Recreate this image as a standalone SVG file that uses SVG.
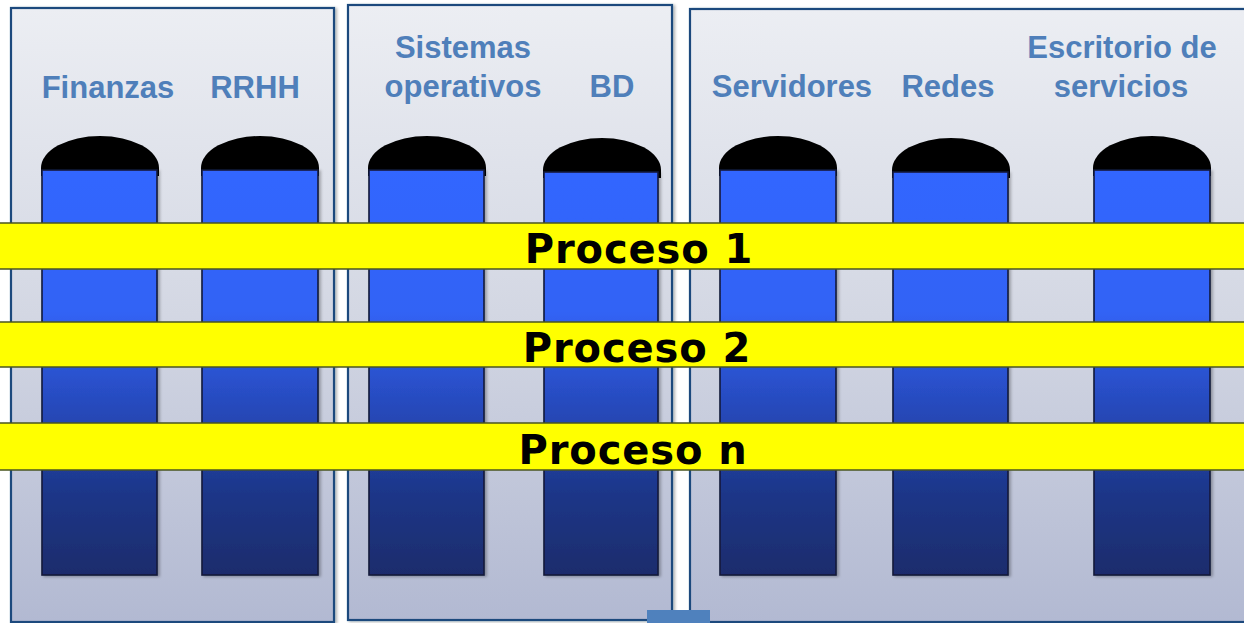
<svg xmlns="http://www.w3.org/2000/svg" width="1244" height="623" viewBox="0 0 1244 623">
<defs>
<linearGradient id="panelG" x1="0" y1="0" x2="0" y2="1">
<stop offset="0" stop-color="#eceef3"/>
<stop offset="0.5" stop-color="#d3d7e3"/>
<stop offset="1" stop-color="#b2b9d2"/>
</linearGradient>
<linearGradient id="pillarG" gradientUnits="userSpaceOnUse" x1="0" y1="170" x2="0" y2="575">
<stop offset="0" stop-color="#3366ff"/>
<stop offset="0.35" stop-color="#3163f5"/>
<stop offset="0.6" stop-color="#2648b8"/>
<stop offset="0.8" stop-color="#1d3688"/>
<stop offset="1" stop-color="#1a2c6c"/>
</linearGradient>
<filter id="sh" x="-10%" y="-10%" width="130%" height="130%">
<feDropShadow dx="2" dy="1" stdDeviation="1.5" flood-color="#000" flood-opacity="0.3"/>
</filter>
</defs>
<style>
.panel{fill:url(#panelG);stroke:#1f497d;stroke-width:2.2}
.pillar{fill:url(#pillarG);stroke:#14183a;stroke-width:1.6}
.dome{fill:#000}
.lbl{font-family:"Liberation Sans",Arial,sans-serif;font-weight:bold;font-size:31px;fill:#4f7fba;text-anchor:middle}
.band{fill:#ffff00;stroke:#4a5520;stroke-width:1.5}
.proc{font-family:"DejaVu Sans",Verdana,sans-serif;font-weight:bold;font-size:40px;fill:#000;text-anchor:middle;letter-spacing:0.9px}
</style>
<rect x="0" y="0" width="1244" height="623" fill="#ffffff"/>

<g id="panels">
<rect id="panel-1" class="panel" x="11" y="8" width="323" height="614" filter="url(#sh)"/>
<rect id="panel-2" class="panel" x="348" y="5" width="324" height="615" filter="url(#sh)"/>
<rect id="panel-3" class="panel" x="690" y="9" width="570" height="613" filter="url(#sh)"/>
<rect id="tab" x="647" y="610" width="63" height="14" fill="#4f81bd"/>
</g>

<g id="labels">
<text class="lbl" x="108" y="98">Finanzas</text>
<text class="lbl" x="255" y="98">RRHH</text>
<text class="lbl" x="463" y="58">Sistemas</text>
<text class="lbl" x="463" y="97">operativos</text>
<text class="lbl" x="612" y="97">BD</text>
<text class="lbl" x="792" y="97">Servidores</text>
<text class="lbl" x="948" y="97">Redes</text>
<text class="lbl" x="1122" y="58">Escritorio de</text>
<text class="lbl" x="1121" y="97">servicios</text>
</g>

<g id="pillar-finanzas">
<path class="dome" d="M41 176 L41 168 A59 32 0 0 1 159 168 L159 176 Z"/>
<rect class="pillar" x="42" y="170" width="115" height="405" filter="url(#sh)"/>
</g>
<g id="pillar-rrhh">
<path class="dome" d="M201 176 L201 168 A59 32 0 0 1 319 168 L319 176 Z"/>
<rect class="pillar" x="202" y="170" width="116" height="405" filter="url(#sh)"/>
</g>
<g id="pillar-so">
<path class="dome" d="M368 176 L368 168 A59 32 0 0 1 486 168 L486 176 Z"/>
<rect class="pillar" x="369" y="170" width="115" height="405" filter="url(#sh)"/>
</g>
<g id="pillar-bd">
<path class="dome" d="M543 178 L543 170 A59 32 0 0 1 661 170 L661 178 Z"/>
<rect class="pillar" x="544" y="172" width="114" height="403" filter="url(#sh)"/>
</g>
<g id="pillar-servidores">
<path class="dome" d="M719 176 L719 168 A59 32 0 0 1 837 168 L837 176 Z"/>
<rect class="pillar" x="720" y="170" width="116" height="405" filter="url(#sh)"/>
</g>
<g id="pillar-redes">
<path class="dome" d="M892 178 L892 170 A59 32 0 0 1 1010 170 L1010 178 Z"/>
<rect class="pillar" x="893" y="172" width="115" height="403" filter="url(#sh)"/>
</g>
<g id="pillar-escritorio">
<path class="dome" d="M1093 176 L1093 168 A59 32 0 0 1 1211 168 L1211 176 Z"/>
<rect class="pillar" x="1094" y="170" width="116" height="405" filter="url(#sh)"/>
</g>

<g id="proceso-1">
<rect class="band" x="-2" y="223" width="1248" height="46"/>
<text class="proc" x="639" y="263">Proceso 1</text>
</g>
<g id="proceso-2">
<rect class="band" x="-2" y="322" width="1248" height="45"/>
<text class="proc" x="637" y="362">Proceso 2</text>
</g>
<g id="proceso-n">
<rect class="band" x="-2" y="423" width="1248" height="47"/>
<text class="proc" x="633" y="464">Proceso n</text>
</g>
<g id="connectors"/>
</svg>
